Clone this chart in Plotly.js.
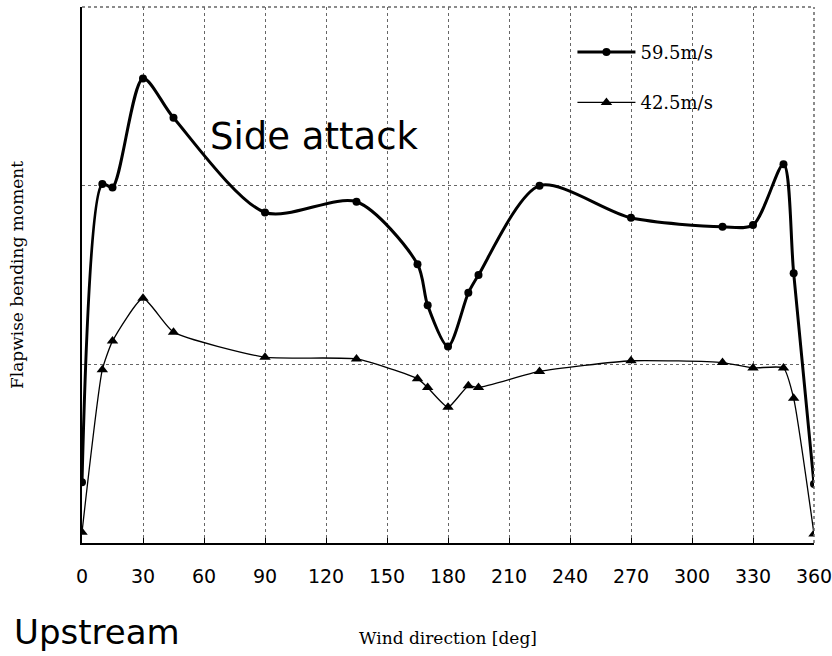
<!DOCTYPE html>
<html>
<head>
<meta charset="utf-8">
<script src="https://cdn.plot.ly/plotly-3.0.1.min.js"></script>
<style>html,body{margin:0;padding:0;background:#fff;}#chart{width:832px;height:656px;}</style>
</head>
<body>
<div id="chart"></div>
<script>
// Wind direction [deg]
const dirHigh = [0, 10, 15, 30, 45, 90, 135, 165, 170, 180, 190, 195, 225, 270, 315, 330, 345, 350, 360];
const momentHigh = [0.34, 2.01, 1.99, 2.60, 2.38, 1.85, 1.91, 1.56, 1.33, 1.10, 1.40, 1.50, 2.00, 1.82, 1.77, 1.78, 2.12, 1.51, 0.33];
const dirLow = [0, 10, 15, 30, 45, 90, 135, 165, 170, 180, 190, 195, 225, 270, 315, 330, 345, 350, 360];
const momentLow = [0.06, 0.97, 1.13, 1.37, 1.18, 1.04, 1.03, 0.92, 0.87, 0.76, 0.88, 0.87, 0.96, 1.02, 1.01, 0.98, 0.98, 0.81, 0.05];
const xTicks = [0, 30, 60, 90, 120, 150, 180, 210, 240, 270, 300, 330, 360];
const seriesNames = ['59.5m/s', '42.5m/s'];

const traces = [
  {
    x: dirHigh, y: momentHigh, name: seriesNames[0], type: 'scatter', mode: 'lines+markers',
    line: {color: '#000', width: 3, shape: 'spline', smoothing: 0.8},
    marker: {symbol: 'circle', size: 8, color: '#000'},
    legendgroup: 'a'
  },
  {
    x: dirLow, y: momentLow, name: seriesNames[1], type: 'scatter', mode: 'lines+markers',
    line: {color: '#000', width: 1.3, shape: 'spline', smoothing: 0.5},
    marker: {symbol: 'triangle-up', size: 10, color: '#000'},
    legendgroup: 'b'
  }
];

const layout = {
  width: 832, height: 656,
  margin: {l: 82, r: 18, t: 7, b: 113},
  paper_bgcolor: '#fff', plot_bgcolor: '#fff',
  showlegend: true,
  legend: {
    x: 0.67, y: 0.95, xanchor: 'left', yanchor: 'top',
    font: {family: 'DejaVu Serif, serif', size: 18, color: '#000'},
    bgcolor: 'rgba(0,0,0,0)', borderwidth: 0, itemwidth: 58,
    traceorder: 'grouped', tracegroupgap: 24
  },
  xaxis: {
    range: [0, 360], tickvals: xTicks, ticktext: xTicks.map(String),
    showgrid: true, gridcolor: '#666', griddash: 'dot', gridwidth: 1,
    showline: true, linecolor: '#000', linewidth: 2,
    ticks: 'inside', ticklen: 5, tickcolor: '#000',
    ticklabelstandoff: 15, ticklabeloverflow: 'allow',
    tickfont: {family: 'DejaVu Sans, sans-serif', size: 19, color: '#000'},
    zeroline: false,
    title: {text: 'Wind direction [deg]', font: {family: 'DejaVu Serif, serif', size: 17, color: '#000'}, standoff: 46}
  },
  yaxis: {
    range: [0, 3], dtick: 1, showticklabels: false,
    showgrid: true, gridcolor: '#666', griddash: 'dot', gridwidth: 1,
    showline: true, linecolor: '#000', linewidth: 2,
    zeroline: false, ticks: '',
    title: {text: 'Flapwise bending moment', font: {family: 'DejaVu Serif, serif', size: 17, color: '#000'}, standoff: 52}
  },
  shapes: [
    {type: 'line', xref: 'paper', yref: 'paper', x0: 0, x1: 1, y0: 1, y1: 1, line: {color: '#666', width: 1.5, dash: 'dot'}},
    {type: 'line', xref: 'paper', yref: 'paper', x0: 1, x1: 1, y0: 0, y1: 1, line: {color: '#666', width: 1.5, dash: 'dot'}}
  ],
  annotations: [
    {text: 'Side attack', xref: 'paper', yref: 'paper', x: 0.172, y: 0.759, xanchor: 'left', yanchor: 'middle', showarrow: false,
     font: {family: 'DejaVu Sans, sans-serif', size: 37, color: '#000'}},
    {text: 'Upstream', xref: 'paper', yref: 'paper', x: -0.096, y: -0.166, xanchor: 'left', yanchor: 'middle', showarrow: false,
     font: {family: 'DejaVu Sans, sans-serif', size: 34, color: '#000'}}
  ]
};

Plotly.newPlot('chart', traces, layout, {displayModeBar: false, staticPlot: true});
</script>
</body>
</html>
